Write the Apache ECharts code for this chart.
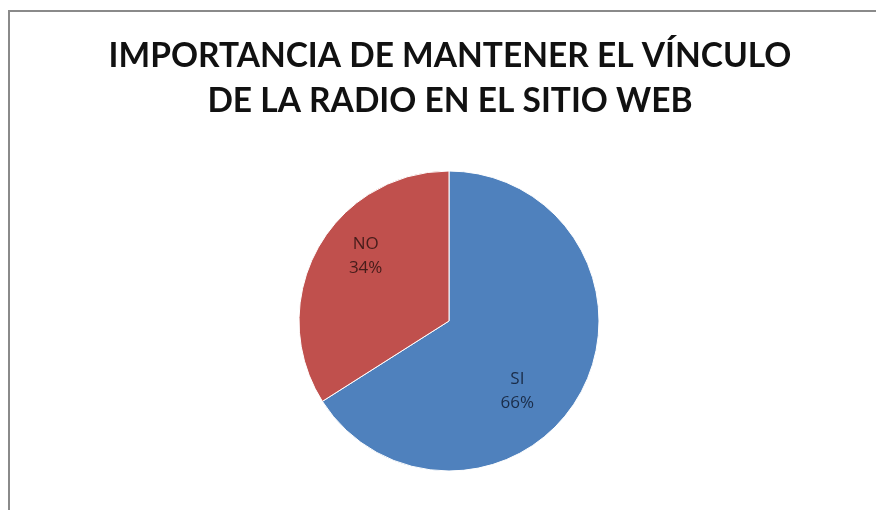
<!DOCTYPE html>
<html>
<head>
<meta charset="utf-8">
<script src="https://cdn.jsdelivr.net/npm/echarts@6/dist/echarts.min.js"></script>
<style>html,body{margin:0;padding:0;background:#fff}#c{width:876px;height:510px}</style>
</head>
<body>
<div id="c"></div>
<script>
const titleLines = ['IMPORTANCIA DE MANTENER EL VÍNCULO', 'DE LA RADIO EN EL SITIO WEB'];
const categories = ['SI', 'NO'];
const values = [66, 34];
const sliceColors = ['#4f81bd', '#c0504d'];
const labelColors = ['#1a2c48', '#451c1a'];
const labelShift = [[0, 33], [-15, -27]];

const chart = echarts.init(document.getElementById('c'));
chart.setOption({
  animation: false,
  backgroundColor: '#fff',
  graphic: [{
    type: 'rect',
    shape: { x: 9, y: 11, width: 900, height: 600 },
    style: { fill: 'none', stroke: '#8a8a8a', lineWidth: 2 }
  }],
  title: {
    text: titleLines.join('\n'),
    left: 445,
    top: 29,
    textAlign: 'center',
    textStyle: {
      fontFamily: 'Lato',
      fontWeight: 'bold',
      fontSize: 33.5,
      lineHeight: 45,
      color: '#111'
    }
  },
  series: [{
    type: 'pie',
    center: [449, 321],
    radius: [0, 150],
    startAngle: 90,
    clockwise: true,
    label: {
      show: true,
      position: 'inside',
      formatter: '{b}\n{d}%',
      fontFamily: 'Open Sans',
      fontSize: 17,
      lineHeight: 24
    },
    labelLayout: function (p) {
      const s = labelShift[p.dataIndex];
      return { dx: s[0], dy: s[1] };
    },
    itemStyle: { borderColor: '#fff', borderWidth: 1 },
    emphasis: { disabled: true },
    data: categories.map((c, i) => ({
      name: c,
      value: values[i],
      itemStyle: { color: sliceColors[i] },
      label: { color: labelColors[i] }
    }))
  }]
});
</script>
</body>
</html>
